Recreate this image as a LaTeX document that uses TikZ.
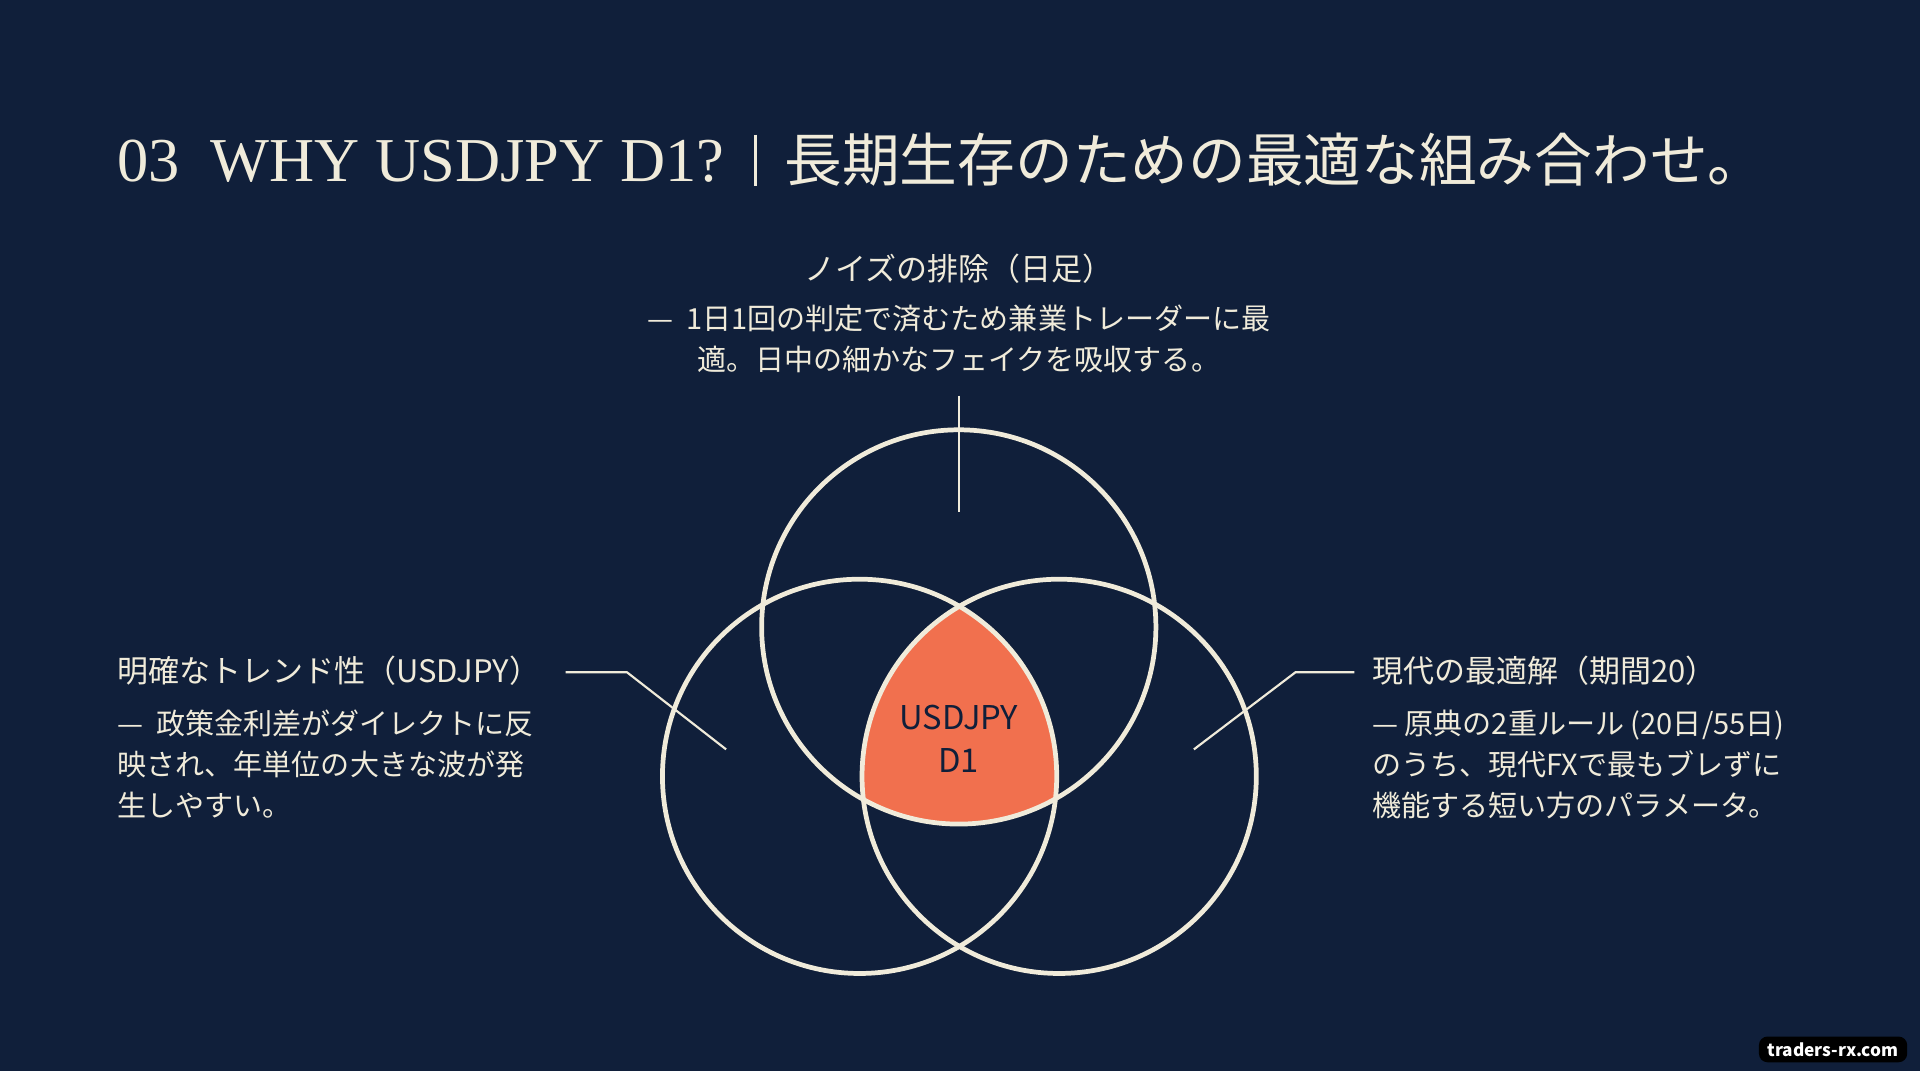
\documentclass[tikz,border=0pt]{standalone}
\usepackage{fontspec}
\setmainfont{Liberation Serif}
\newfontfamily\jp{Noto Sans CJK JP}
\definecolor{navy}{RGB}{16,31,58}
\definecolor{cream}{RGB}{240,235,218}
\definecolor{coral}{RGB}{241,112,78}
\newcommand{\rr}{161}

\begin{document}
\begin{tikzpicture}[x=0.01cm,y=-0.01cm,
    ring/.style={draw=cream, line width=1.1pt},
    lead/.style={draw=cream, line width=0.5pt},
    head/.style={text=cream, font=\jp\fontsize{7.2}{9}\selectfont, inner sep=0pt},
    body/.style={text=cream, font=\jp\fontsize{6.75}{9.5}\selectfont, inner sep=0pt}]
    % background
    \fill[navy] (0,0) rectangle (1568,875);
    \useasboundingbox (0,0) rectangle (1568,875);

    % title
    \node[text=cream, anchor=base west, inner sep=0pt, font=\fontsize{14.5}{16}\selectfont] (title-en) at (95,148) {03\ \ WHY USDJPY D1?};
    \draw[cream, line width=0.5pt] (617,110) -- (617,152);
    \node[text=cream, anchor=base west, inner sep=0pt, font=\jp\fontsize{13.4}{16}\selectfont] (title-jp) at (640,148) {長期生存のための最適な組み合わせ。};

    % orange centre
    \begin{scope}
        \clip (783,512) circle (\rr);
        \clip (702,634) circle (\rr);
        \fill[coral] (865,634) circle (\rr);
    \end{scope}

    % circles
    \draw[ring] (783,512) circle (\rr);
    \draw[ring] (702,634) circle (\rr);
    \draw[ring] (865,634) circle (\rr);

    \node[text=navy, align=center, inner sep=0pt, font=\jp\fontsize{7.6}{10}\selectfont] (core) at (783,603) {USDJPY\\D1};

    % top label
    \node[head, anchor=base] (top-head) at (783,229) {ノイズの排除（日足）};
    \node[body, anchor=north, align=center] (top-body) at (783,248) {—\ \ 1日1回の判定で済むため兼業トレーダーに最\\適。日中の細かなフェイクを吸収する。};
    \coordinate (top-a) at (783,323);
    \coordinate (top-b) at (783,418);
    \draw[lead] (top-a) -- (top-b);

    % left label
    \node[head, anchor=base west] (left-head) at (95,557) {明確なトレンド性（USDJPY）};
    \node[body, anchor=north west, align=left] (left-body) at (95,579) {—\ \ 政策金利差がダイレクトに反\\映され、年単位の大きな波が発\\生しやすい。};
    \coordinate (left-a) at (462,549);
    \coordinate (left-b) at (512,549);
    \coordinate (left-c) at (593,612);
    \draw[lead] (left-a) -- (left-b) -- (left-c);

    % right label
    \node[head, anchor=base west] (right-head) at (1120,557) {現代の最適解（期間20）};
    \node[body, anchor=north west, align=left] (right-body) at (1120,579) {— 原典の2重ルール (20日/55日)\\のうち、現代FXで最もブレずに\\機能する短い方のパラメータ。};
    \coordinate (right-a) at (1106,549);
    \coordinate (right-b) at (1058,549);
    \coordinate (right-c) at (975,612);
    \draw[lead] (right-a) -- (right-b) -- (right-c);

    % watermark
    \node[fill=black, rounded corners=2pt, text=white, font=\jp\bfseries\fontsize{4}{5}\selectfont, minimum width=1.21cm, minimum height=0.21cm, inner sep=0pt] (mark) at (1497,857) {traders-rx.com};
\end{tikzpicture}
\end{document}
